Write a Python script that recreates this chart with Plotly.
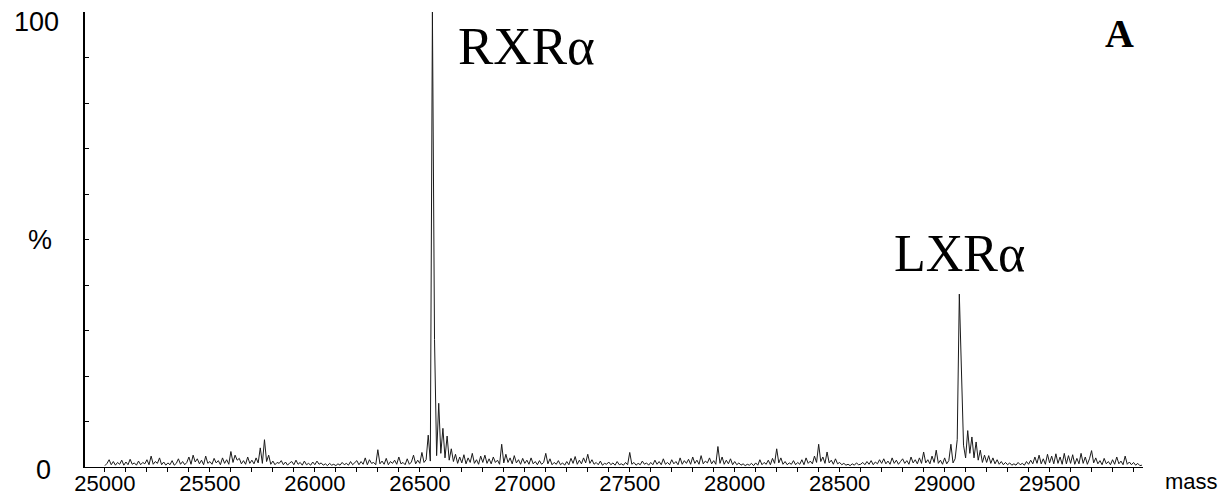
import plotly.graph_objects as go

# ---- data ----
mass_start = 25000
mass_step = 10

row_25000 = [0.3, 0.8, 1.6, 0.5, 1.2, 0.4, 1.0, 0.6, 1.5, 0.4]
row_25100 = [1.1, 0.5, 1.7, 0.6, 0.9, 0.4, 1.3, 0.5, 1.0, 0.7]
row_25200 = [1.6, 0.5, 2.4, 0.6, 1.2, 0.8, 2.0, 0.5, 1.1, 0.4]
row_25300 = [0.9, 0.5, 1.4, 0.4, 0.8, 1.8, 0.6, 1.2, 0.5, 1.0]
row_25400 = [2.2, 0.6, 2.6, 1.1, 1.8, 0.7, 1.5, 0.5, 2.4, 0.8]
row_25500 = [1.2, 0.6, 1.9, 0.9, 1.4, 0.5, 2.0, 0.8, 1.6, 0.6]
row_25600 = [3.4, 1.0, 2.6, 1.5, 1.9, 0.7, 1.4, 0.6, 2.2, 0.8]
row_25700 = [1.5, 0.7, 2.0, 0.9, 4.2, 0.8, 6.0, 1.2, 2.6, 0.6]
row_25800 = [1.3, 0.5, 1.0, 0.8, 1.4, 0.5, 1.1, 0.4, 0.9, 1.2]
row_25900 = [0.5, 1.5, 0.6, 1.0, 0.4, 1.3, 0.5, 0.8, 0.4, 1.1]
row_26000 = [0.5, 1.3, 0.6, 0.9, 0.4, 0.7, 0.3, 0.8, 0.4, 0.6]
row_26100 = [0.3, 0.7, 0.4, 1.0, 0.5, 0.8, 0.4, 1.2, 0.5, 0.9]
row_26200 = [1.4, 0.5, 1.2, 0.6, 2.0, 0.5, 1.6, 0.8, 1.0, 0.5]
row_26300 = [3.8, 0.7, 1.3, 0.6, 1.9, 0.5, 1.2, 0.8, 1.5, 0.6]
row_26400 = [2.2, 0.7, 1.0, 0.5, 1.8, 0.6, 1.1, 2.6, 0.7, 1.5]
row_26500 = [0.8, 3.2, 1.0, 1.6, 7.0, 1.3, 100.0, 28.0, 2.5, 14.0]
row_26600 = [3.0, 8.5, 2.0, 6.8, 1.5, 4.0, 1.2, 2.8, 0.8, 2.2]
row_26700 = [0.9, 2.7, 0.7, 2.0, 1.0, 3.0, 0.8, 1.6, 0.6, 2.4]
row_26800 = [1.0, 2.6, 0.8, 1.8, 0.7, 2.2, 1.0, 1.5, 0.6, 5.0]
row_26900 = [0.9, 2.8, 1.0, 2.0, 0.7, 2.5, 0.9, 1.6, 0.6, 1.9]
row_27000 = [0.8, 1.5, 0.6, 2.0, 0.7, 1.2, 0.5, 1.4, 0.6, 1.0]
row_27100 = [3.0, 0.7, 1.8, 0.5, 1.0, 0.6, 1.4, 0.5, 0.9, 0.4]
row_27200 = [1.2, 0.5, 1.9, 0.8, 2.3, 0.6, 1.5, 0.7, 2.0, 0.9]
row_27300 = [2.8, 0.8, 1.6, 0.6, 1.0, 0.5, 1.3, 0.4, 0.8, 0.6]
row_27400 = [1.1, 0.5, 0.9, 0.4, 1.2, 0.5, 0.7, 0.4, 1.0, 0.5]
row_27500 = [3.2, 0.6, 1.0, 0.4, 0.8, 0.5, 1.3, 0.6, 0.9, 0.4]
row_27600 = [1.0, 0.5, 1.5, 0.6, 1.2, 0.5, 1.8, 0.6, 1.0, 0.5]
row_27700 = [1.6, 0.7, 1.2, 0.5, 2.0, 0.6, 1.4, 0.8, 1.7, 0.6]
row_27800 = [2.2, 0.8, 1.5, 0.6, 2.5, 0.7, 1.3, 0.9, 2.0, 0.7]
row_27900 = [1.4, 0.6, 4.5, 0.8, 2.2, 0.6, 1.5, 0.7, 1.8, 0.5]
row_28000 = [1.2, 0.5, 0.9, 0.4, 0.7, 0.3, 0.6, 0.4, 0.8, 0.3]
row_28100 = [0.9, 0.4, 1.6, 0.5, 1.0, 0.6, 1.5, 0.5, 1.9, 0.8]
row_28200 = [4.0, 0.9, 2.0, 0.6, 1.2, 0.5, 0.9, 0.6, 1.4, 0.5]
row_28300 = [1.0, 0.6, 1.6, 0.5, 2.0, 0.8, 1.3, 0.7, 2.4, 1.0]
row_28400 = [5.0, 1.2, 2.2, 0.8, 3.3, 0.9, 1.5, 0.6, 1.8, 0.7]
row_28500 = [1.0, 0.5, 0.8, 0.4, 0.6, 0.3, 0.7, 0.4, 0.9, 0.5]
row_28600 = [0.6, 1.0, 0.5, 1.2, 0.6, 1.4, 0.5, 1.1, 0.7, 1.6]
row_28700 = [0.8, 1.8, 0.7, 1.3, 0.6, 2.0, 0.8, 1.5, 0.6, 1.2]
row_28800 = [1.8, 0.8, 1.4, 0.6, 2.2, 0.9, 1.6, 0.7, 2.0, 0.8]
row_28900 = [3.3, 0.9, 1.6, 0.7, 2.4, 1.0, 3.7, 0.8, 1.5, 0.6]
row_29000 = [2.0, 0.7, 1.4, 5.0, 0.9, 1.8, 6.0, 38.0, 21.0, 4.8]
row_29100 = [2.0, 8.0, 3.0, 6.6, 2.0, 5.5, 1.5, 3.7, 1.0, 2.6]
row_29200 = [1.0, 2.5, 0.8, 2.0, 0.7, 1.6, 0.6, 1.2, 0.5, 1.0]
row_29300 = [0.5, 0.9, 0.4, 0.7, 0.4, 1.0, 0.5, 0.8, 0.4, 1.2]
row_29400 = [0.6, 1.5, 0.7, 2.2, 0.8, 2.6, 0.7, 1.8, 0.6, 2.8]
row_29500 = [0.9, 2.4, 0.7, 2.9, 0.8, 2.2, 0.6, 3.0, 0.7, 2.5]
row_29600 = [0.8, 2.7, 0.6, 1.9, 0.7, 3.0, 0.8, 2.2, 0.6, 1.8]
row_29700 = [3.6, 0.9, 2.0, 0.7, 1.4, 0.5, 1.9, 0.7, 1.2, 0.5]
row_29800 = [1.6, 0.6, 2.2, 0.7, 1.3, 0.5, 2.4, 0.6, 1.1, 0.5]
row_29900 = [1.0, 0.4, 0.8, 0.3, 0.4]

intensity_rows = [
    row_25000, row_25100, row_25200, row_25300, row_25400, row_25500,
    row_25600, row_25700, row_25800, row_25900, row_26000, row_26100,
    row_26200, row_26300, row_26400, row_26500, row_26600, row_26700,
    row_26800, row_26900, row_27000, row_27100, row_27200, row_27300,
    row_27400, row_27500, row_27600, row_27700, row_27800, row_27900,
    row_28000, row_28100, row_28200, row_28300, row_28400, row_28500,
    row_28600, row_28700, row_28800, row_28900, row_29000, row_29100,
    row_29200, row_29300, row_29400, row_29500, row_29600, row_29700,
    row_29800, row_29900,
]

x_tick_values = [25000, 25500, 26000, 26500, 27000, 27500, 28000, 28500, 29000, 29500]
x_tick_labels = ["25000", "25500", "26000", "26500", "27000", "27500", "28000", "28500", "29000", "29500"]

peak_labels = ["RXR\u03b1", "LXR\u03b1"]
panel_label = "A"

# ---- build series ----
intensity = [v for row in intensity_rows for v in row]
mass = [mass_start + mass_step * i for i in range(len(intensity))]

fig = go.Figure()
fig.add_trace(go.Scatter(
    x=mass, y=intensity, mode="lines",
    line=dict(color="#1a1a1a", width=1),
    hoverinfo="skip", showlegend=False,
))

sans = "Liberation Sans, Arial, sans-serif"
serif = "Liberation Serif, Times New Roman, serif"

fig.update_layout(
    width=1222, height=498,
    margin=dict(l=85, r=79, t=12, b=31, autoexpand=False),
    paper_bgcolor="white", plot_bgcolor="white",
    showlegend=False,
    xaxis=dict(
        range=[24905, 29945], automargin=False,
        showgrid=False, zeroline=False,
        showline=True, linecolor="black", linewidth=1.2,
        tickmode="array", tickvals=x_tick_values, ticktext=x_tick_labels,
        ticks="", ticklabelstandoff=-4,
        minor=dict(dtick=100, tick0=25000, ticks="outside", ticklen=4,
                   tickcolor="black", tickwidth=1, showgrid=False),
        tickfont=dict(family=sans, size=22, color="black"),
    ),
    yaxis=dict(
        range=[0, 100], automargin=False,
        showgrid=False, zeroline=False,
        showline=True, linecolor="black", linewidth=1.5,
        tickmode="linear", tick0=0, dtick=10,
        ticks="inside", ticklen=4, tickcolor="black", tickwidth=1,
        showticklabels=False,
    ),
)

annotations = [
    dict(text="100", xref="paper", yref="paper", x=0, y=1, xshift=-49, yshift=-10,
         xanchor="center", yanchor="middle", showarrow=False,
         font=dict(family=sans, size=27, color="black")),
    dict(text="%", xref="paper", yref="paper", x=0, y=0.5, xshift=-45, yshift=0,
         xanchor="center", yanchor="middle", showarrow=False,
         font=dict(family=sans, size=27, color="black")),
    dict(text="0", xref="paper", yref="paper", x=0, y=0, xshift=-42, yshift=-3,
         xanchor="center", yanchor="middle", showarrow=False,
         font=dict(family=sans, size=27, color="black")),
    dict(text="mass", xref="paper", yref="paper", x=1, y=0, xshift=20, yshift=0,
         xanchor="left", yanchor="top", showarrow=False,
         font=dict(family=sans, size=22, color="black")),
    dict(text=peak_labels[0], xref="paper", yref="paper", x=0.3506, y=0.925,
         xanchor="left", yanchor="middle", showarrow=False,
         font=dict(family=serif, size=53, color="black")),
    dict(text=peak_labels[1], xref="paper", yref="paper", x=0.7625, y=0.47,
         xanchor="left", yanchor="middle", showarrow=False,
         font=dict(family=serif, size=52, color="black")),
    dict(text="<b>" + panel_label + "</b>", xref="paper", yref="paper", x=0.978, y=0.953,
         xanchor="center", yanchor="middle", showarrow=False,
         font=dict(family=serif, size=40, color="black")),
]
fig.update_layout(annotations=annotations)

fig.write_html(
    "out.html",
    config={"displayModeBar": False},
    post_script="document.body.style.margin='0';document.body.style.padding='0';"
                "document.body.style.overflow='hidden';",
)
